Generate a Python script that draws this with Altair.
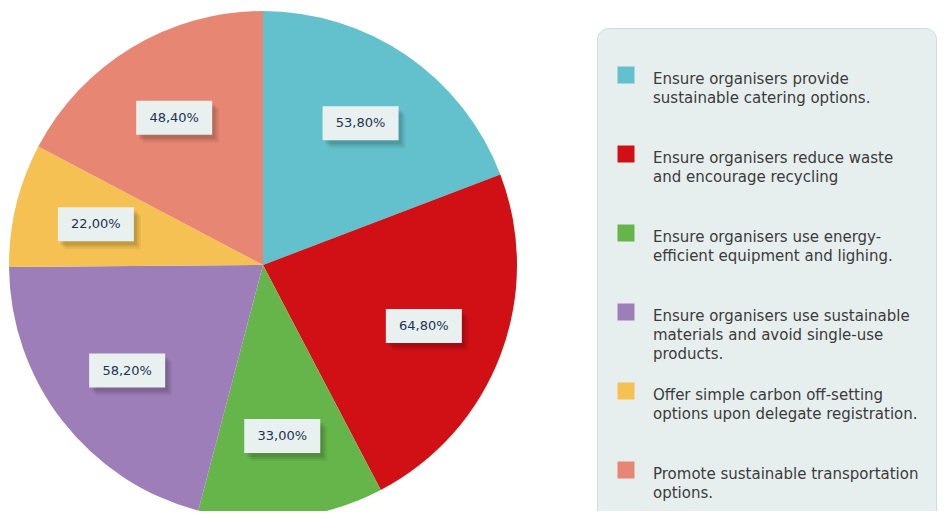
import altair as alt
import pandas as pd

categories = [
    "Ensure organisers provide sustainable catering options.",
    "Ensure organisers reduce waste and encourage recycling",
    "Ensure organisers use energy-efficient equipment and lighing.",
    "Ensure organisers use sustainable materials and avoid single-use products.",
    "Offer simple carbon off-setting options upon delegate registration.",
    "Promote sustainable transportation options.",
]
legend_text = [
    "Ensure organisers provide\nsustainable catering options.",
    "Ensure organisers reduce waste\nand encourage recycling",
    "Ensure organisers use energy-\nefficient equipment and lighing.",
    "Ensure organisers use sustainable\nmaterials and avoid single-use\nproducts.",
    "Offer simple carbon off-setting\noptions upon delegate registration.",
    "Promote sustainable transportation\noptions.",
]
values = [53.8, 64.8, 33.0, 58.2, 22.0, 48.4]
colors = ["#62c1cc", "#d11016", "#66b54a", "#9e7eb8", "#f4c152", "#e78673"]

df = pd.DataFrame({
    "idx": list(range(len(categories))),
    "category": categories,
    "legend": legend_text,
    "value": values,
})

CX, CY, R, LR = 255, 257, 254, 172

color = alt.Color("category:N", scale=alt.Scale(domain=categories, range=colors), legend=None)
base = alt.Chart(df)

pie = base.mark_arc(outerRadius=R).encode(
    theta=alt.Theta("value:Q", stack=True),
    order=alt.Order("idx:Q"),
    color=color,
    x=alt.value(CX), y=alt.value(CY),
)

lab = base.transform_joinaggregate(total="sum(value)").transform_window(
    cum="sum(value)", sort=[alt.SortField("idx")], frame=[None, 0]
).transform_calculate(
    mid="(datum.cum - datum.value/2)/datum.total*2*PI",
    lx=f"{CX} + {LR}*sin(datum.mid)",
    ly=f"{CY} - {LR}*cos(datum.mid)",
    lbl="replace(format(datum.value, '.2f'), '.', ',') + '%'",
)

def box(dx, dy, fill, opacity):
    return lab.transform_calculate(
        bx0=f"datum.lx - 38 + {dx}", bx1=f"datum.lx + 38 + {dx}",
        by0=f"datum.ly - 17 + {dy}", by1=f"datum.ly + 17 + {dy}",
    ).mark_rect(fill=fill, opacity=opacity).encode(
        x=alt.X("bx0:Q", scale=None), x2="bx1:Q",
        y=alt.Y("by0:Q", scale=None), y2="by1:Q",
    )

shadow1 = box(7, 8, "#000000", 0.05)
shadow2 = box(5, 6, "#000000", 0.07)
shadow3 = box(3, 4, "#000000", 0.09)
boxes = box(0, 0, "#e9f0f0", 1.0)

labels = lab.mark_text(font="DejaVu Sans", fontSize=13, color="#1e3352", align="center", baseline="middle").encode(
    x=alt.X("lx:Q", scale=None), y=alt.Y("ly:Q", scale=None), text="lbl:N",
)

legend_bg = base.transform_filter("datum.idx == 0").mark_rect(
    fill="#e7efee", stroke="#d3dbdb", strokeWidth=1, cornerRadius=11
).encode(x=alt.value(589.5), x2=alt.value(928.5), y=alt.value(20.5), y2=alt.value(540))

ypos = alt.Y("idx:Q", scale=alt.Scale(domain=[0, 5], range=[67, 462]), axis=None)
leg_sq = base.mark_square(size=289, opacity=1).encode(
    x=alt.value(618), y=ypos, color=color,
)
leg_txt = base.mark_text(
    font="DejaVu Sans", fontSize=15, color="#3b3b3b", align="left", baseline="top",
    lineBreak="\n", lineHeight=19, dy=-3,
).encode(x=alt.value(645), y=ypos, text="legend:N")

chart = alt.layer(
    pie, shadow1, shadow2, shadow3, boxes, labels, legend_bg, leg_sq, leg_txt
).resolve_scale(x="independent", y="independent").properties(
    width=929, height=503, padding=0, autosize=alt.AutoSizeParams(type="none")
).configure_view(stroke=None)

chart.save("out.html", embed_options={"renderer": "svg", "actions": False})
